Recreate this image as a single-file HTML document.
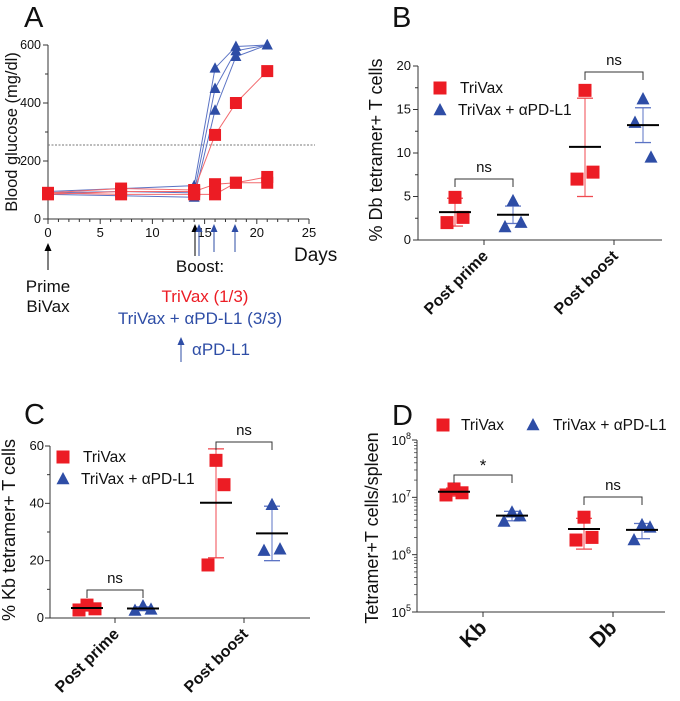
<!DOCTYPE html>
<html><head><meta charset="utf-8"><style>
html,body{margin:0;padding:0;background:#fff;}
svg{display:block;font-family:"Liberation Sans",Arial,sans-serif;}
</style></head><body>
<svg id="fig" width="680" height="701" viewBox="0 0 680 701" xmlns="http://www.w3.org/2000/svg"></svg>
<script>
// ---------- Panel A data ----------
const daysA = [0, 7, 14, 16, 18, 21];
const redA1 = [90, 105, 100, 290, 400, 510];
const redA2 = [85, 95, 95, 120, 125, 145];
const redA3 = [90, 85, 85, 85, 125, 125];
const blueA1 = [95, 105, 115, 520, 595, 600];
const blueA2 = [90, 95, 90, 450, 580, 600];
const blueA3 = [85, 80, 75, 375, 560, 600];
const thresholdA = 255;
const xTicksA = [0, 5, 10, 15, 20, 25];
const yTicksA = [0, 200, 400, 600];
// ---------- Panel B data ----------
const catsB = ["Post prime", "Post boost"];
const redB = [[4.9, 2.0, 2.6], [17.2, 7.0, 7.8]];
const blueB = [[4.5, 1.5, 2.0], [16.2, 13.5, 9.5]];
const redMeanB = [3.2, 10.7]; const redLoB = [1.6, 5.0]; const redHiB = [4.8, 16.3];
const blueMeanB = [2.9, 13.2]; const blueLoB = [1.9, 11.2]; const blueHiB = [3.9, 15.2];
const sigB = ["ns", "ns"];
const yTicksB = [0, 5, 10, 15, 20];
// ---------- Panel C data ----------
const catsC = ["Post prime", "Post boost"];
const redC = [[4.5, 2.8, 3.2], [55, 18.5, 46.5]];
const blueC = [[4.2, 2.6, 3.0], [39.5, 23.5, 24]];
const redMeanC = [3.5, 40.2]; const redLoC = [2.8, 21]; const redHiC = [4.3, 59];
const blueMeanC = [3.3, 29.5]; const blueLoC = [2.7, 20]; const blueHiC = [3.9, 39];
const sigC = ["ns", "ns"];
const yTicksC = [0, 20, 40, 60];
// ---------- Panel D data ----------
const catsD = ["Kb", "Db"];
const redD = [[1.4e7, 1.1e7, 1.2e7], [4.5e6, 1.8e6, 2.0e6]];
const blueD = [[5.5e6, 3.8e6, 4.7e6], [3.3e6, 1.8e6, 3.0e6]];
const redMeanD = [1.25e7, 2.8e6]; const redLoD = [1.05e7, 1.25e6]; const redHiD = [1.45e7, 4.3e6];
const blueMeanD = [4.8e6, 2.7e6]; const blueLoD = [3.9e6, 1.9e6]; const blueHiD = [5.7e6, 3.5e6];
const sigD = ["*", "ns"];
const yTicksD = [5, 6, 7, 8];

const RED = "#ec1c24", BLUE = "#2e4da6", NS = "http://www.w3.org/2000/svg";
const svg = document.getElementById("fig");
function el(tag, attrs, parent, text) {
  const e = document.createElementNS(NS, tag);
  for (const k in attrs) e.setAttribute(k, attrs[k]);
  if (text !== undefined) e.textContent = text;
  (parent || svg).appendChild(e);
  return e;
}
function group(name) {
  const g = el("g", {});
  
  
  return g;
}
function square(g, x, y, s, name) {
  const r = el("rect", {x: x - s / 2, y: y - s / 2, width: s, height: s, fill: RED}, g);
  
  
}
function tri(g, x, y, s, name) {
  const h = s * 0.9;
  const p = el("polygon", {points: `${x},${y - h * 0.6} ${x - s / 2},${y + h * 0.45} ${x + s / 2},${y + h * 0.45}`, fill: BLUE}, g);
  
  
}
function txt(g, x, y, s, opts, name) {
  const t = el("text", Object.assign({x: x, y: y, "font-size": 12, fill: "#111"}, opts || {}), g, s);
  
  
  return t;
}
function line(g, x1, y1, x2, y2, stroke, w, extra) {
  return el("line", Object.assign({x1, y1, x2, y2, stroke: stroke || "#333", "stroke-width": w || 1}, extra || {}), g);
}
function upArrow(g, x, y1, y2, color) {
  line(g, x, y1 + 6, x, y2, color, 1);
  el("polygon", {points: `${x},${y1} ${x - 3.5},${y1 + 8} ${x + 3.5},${y1 + 8}`, fill: color}, g);
}

// ================= Panel A =================
(function () {
  const g = group("panel-a");
  const xA = d => 48 + d * (261 / 25);
  const yA = v => 219 - v * (174 / 600);
  txt(g, 24, 27, "A", {"font-size": 29}, "panel-a-letter");
  line(g, 48, 45, 48, 219, "#333");
  line(g, 48, 219, 309, 219, "#333");
  for (let d = 0; d <= 25; d++) line(g, xA(d), 219, xA(d), d % 5 === 0 ? 224 : 222, "#333");
  xTicksA.forEach(d => txt(g, xA(d), 237, String(d), {"text-anchor": "middle", "font-size": 13}, "x-tick-a"));
  for (let v = 0; v <= 600; v += 100) line(g, 43 + (v % 200 ? 2 : 0), yA(v), 48, yA(v), "#333");
  yTicksA.forEach(v => txt(g, 41, yA(v) + 4, String(v), {"text-anchor": "end", "font-size": 12.5}, "y-tick-a"));
  txt(g, 17, 132, "Blood glucose (mg/dl)", {"text-anchor": "middle", "font-size": 16.5, transform: "rotate(-90 17 132)"}, "y-axis-title-a");
  txt(g, 294, 261, "Days", {"font-size": 19}, "x-axis-title-a");
  const th = line(g, 48, yA(thresholdA), 315, yA(thresholdA), "#777", 1, {"stroke-dasharray": "2,1.5"});
  
  
  const blues = [blueA1, blueA2, blueA3], reds = [redA1, redA2, redA3];
  blues.forEach(s => el("polyline", {points: daysA.map((d, i) => xA(d) + "," + yA(s[i])).join(" "), fill: "none", stroke: "#5b73c4", "stroke-width": 1}, g));
  reds.forEach(s => el("polyline", {points: daysA.map((d, i) => xA(d) + "," + yA(s[i])).join(" "), fill: "none", stroke: "#f26a6e", "stroke-width": 1}, g));
  blues.forEach(s => daysA.forEach((d, i) => { if (d >= 14) tri(g, xA(d), yA(s[i]), 11, "glucose-point-trivax-pdl1"); }));
  reds.forEach(s => daysA.forEach((d, i) => square(g, xA(d), yA(s[i]), 12, "glucose-point-trivax")));
  upArrow(g, 48, 243, 270, "#000");
  upArrow(g, 195, 224, 256, "#000");
  upArrow(g, 199, 224, 256, BLUE);
  upArrow(g, 214, 224, 252, BLUE);
  upArrow(g, 235, 224, 252, BLUE);
  upArrow(g, 181, 337, 362, BLUE);
  txt(g, 48, 292, "Prime", {"text-anchor": "middle", "font-size": 17}, "prime-label");
  txt(g, 48, 312, "BiVax", {"text-anchor": "middle", "font-size": 17}, "bivax-label");
  txt(g, 200, 272, "Boost:", {"text-anchor": "middle", "font-size": 17}, "boost-label");
  txt(g, 205, 302, "TriVax (1/3)", {"text-anchor": "middle", "font-size": 17, fill: RED}, "trivax-note");
  txt(g, 200, 324, "TriVax + \u03b1PD-L1 (3/3)", {"text-anchor": "middle", "font-size": 17, fill: BLUE}, "trivax-pdl1-note");
  txt(g, 192, 355, "\u03b1PD-L1", {"font-size": 17, fill: BLUE}, "pdl1-arrow-label");
})();

// ============ generic dot plot ============
function dotPanel(o) {
  const g = group(o.name);
  txt(g, o.letterX, o.letterY, o.letter, {"font-size": 29}, o.name + "-letter");
  line(g, o.ax, o.yTop, o.ax, o.y0, "#333");
  line(g, o.ax, o.y0, o.axEnd, o.y0, "#333");
  o.yTicks.forEach(v => {
    line(g, o.ax - 5, o.ys(v), o.ax, o.ys(v), "#333");
    if (o.minor) o.minor(g, v);
    o.tickLabel(g, v);
  });
  o.cats.forEach((c, i) => {
    const cx = o.catX[i];
    line(g, cx, o.y0, cx, o.y0 + 5, "#333");
    txt(g, cx + 5, o.y0 + 17, c, {"text-anchor": "end", "font-size": o.catFont, "font-weight": "bold", transform: `rotate(-45 ${cx + 5} ${o.y0 + 17})`}, "x-category-label");
    const rx = cx - o.off, bx = cx + o.off;
    line(g, rx, o.ys(o.redLo[i]), rx, o.ys(o.redHi[i]), "#f04a50", 1);
    line(g, rx - 8, o.ys(o.redLo[i]), rx + 8, o.ys(o.redLo[i]), "#f04a50", 1.3);
    line(g, rx - 8, o.ys(o.redHi[i]), rx + 8, o.ys(o.redHi[i]), "#f04a50", 1.3);
    line(g, bx, o.ys(o.blueLo[i]), bx, o.ys(o.blueHi[i]), "#5b73c4", 1);
    line(g, bx - 8, o.ys(o.blueLo[i]), bx + 8, o.ys(o.blueLo[i]), "#5b73c4", 1.3);
    line(g, bx - 8, o.ys(o.blueHi[i]), bx + 8, o.ys(o.blueHi[i]), "#5b73c4", 1.3);
    const jit = [0, -8, 8];
    o.red[i].forEach((v, j) => square(g, rx + jit[j], o.ys(v), 13, "point-trivax"));
    o.blue[i].forEach((v, j) => tri(g, bx + jit[j], o.ys(v), 13, "point-trivax-pdl1"));
    const mr = line(g, rx - 16, o.ys(o.redMean[i]), rx + 16, o.ys(o.redMean[i]), "#000", 2);
     
    const mb = line(g, bx - 16, o.ys(o.blueMean[i]), bx + 16, o.ys(o.blueMean[i]), "#000", 2);
     
    const by = o.brY[i];
    el("polyline", {points: `${rx},${by + 8} ${rx},${by} ${bx},${by} ${bx},${by + 8}`, fill: "none", stroke: "#333", "stroke-width": 1}, g);
    txt(g, cx, by - 7 + (o.sig[i] === "*" ? 3 : 0), o.sig[i], {"text-anchor": "middle", "font-size": o.sig[i] === "*" ? 17 : 15}, "significance-label");
  });
  txt(g, o.ylx, o.yly, o.ylabel, {"text-anchor": "middle", "font-size": 18, transform: `rotate(-90 ${o.ylx} ${o.yly})`}, o.name + "-y-axis-title");
  const L = o.legend;
  square(g, L.sx, L.sy, 13, "legend-marker-trivax");
  txt(g, L.stx, L.sy + 5, "TriVax", {"font-size": 15.5}, "legend-entry-trivax");
  tri(g, L.tx, L.ty, 13, "legend-marker-trivax-pdl1");
  txt(g, L.ttx, L.ty + 5, "TriVax + \u03b1PD-L1", {"font-size": 15.5}, "legend-entry-trivax-pdl1");
}

// Panel B
(function () {
  const ys = v => 240 - v * (174 / 20);
  dotPanel({name: "panel-b", letter: "B", letterX: 392, letterY: 27, ax: 418, axEnd: 662, y0: 240, yTop: 66, ys,
    yTicks: yTicksB, cats: catsB, catX: [484, 614], off: 29, catFont: 16,
    tickLabel: (g, v) => txt(g, 411, ys(v) + 4, String(v), {"text-anchor": "end", "font-size": 13}, "y-tick-b"),
    minor: (g, v) => { if (v < 20) line(g, 415, ys(v + 2.5), 418, ys(v + 2.5), "#333"); },
    red: redB, blue: blueB, redMean: redMeanB, redLo: redLoB, redHi: redHiB,
    blueMean: blueMeanB, blueLo: blueLoB, blueHi: blueHiB, sig: sigB, brY: [179, 72],
    ylx: 382, yly: 150, ylabel: "% Db tetramer+ T cells",
    legend: {sx: 440, sy: 88, stx: 460, tx: 440, ty: 110, ttx: 458}});
})();

// Panel C
(function () {
  const ys = v => 618 - v * (172 / 60);
  dotPanel({name: "panel-c", letter: "C", letterX: 24, letterY: 424, ax: 50, axEnd: 310, y0: 618, yTop: 446, ys,
    yTicks: yTicksC, cats: catsC, catX: [115, 244], off: 28, catFont: 16,
    tickLabel: (g, v) => txt(g, 44, ys(v) + 4, String(v), {"text-anchor": "end", "font-size": 13}, "y-tick-c"),
    minor: (g, v) => { if (v < 60) line(g, 47, ys(v + 10), 50, ys(v + 10), "#333"); },
    red: redC, blue: blueC, redMean: redMeanC, redLo: redLoC, redHi: redHiC,
    blueMean: blueMeanC, blueLo: blueLoC, blueHi: blueHiC, sig: sigC, brY: [590, 442],
    ylx: 15, yly: 530, ylabel: "% Kb tetramer+ T cells",
    legend: {sx: 63, sy: 457, stx: 83, tx: 63, ty: 479, ttx: 81}});
})();

// Panel D
(function () {
  const yl = e => 612 - (e - 5) * (172 / 3);
  const ys = v => yl(Math.log10(v));
  dotPanel({name: "panel-d", letter: "D", letterX: 392, letterY: 425, ax: 417, axEnd: 665, y0: 612, yTop: 440, ys: ys,
    yTicks: yTicksD.map(e => Math.pow(10, e)), cats: catsD, catX: [483, 613], off: 29, catFont: 21,
    tickLabel: (g, v) => {
      const e = Math.round(Math.log10(v));
      txt(g, 406, ys(v) + 5, "10", {"text-anchor": "end", "font-size": 13}, "y-tick-d");
      txt(g, 406, ys(v) - 1, String(e), {"font-size": 9}, "y-tick-d-exponent");
    },
    minor: (g, v) => { if (v < 1e8) for (let k = 2; k < 10; k++) line(g, 414, ys(v * k), 417, ys(v * k), "#333", 0.7); },
    red: redD, blue: blueD, redMean: redMeanD, redLo: redLoD, redHi: redHiD,
    blueMean: blueMeanD, blueLo: blueLoD, blueHi: blueHiD, sig: sigD, brY: [475, 497],
    ylx: 378, yly: 528, ylabel: "Tetramer+T cells/spleen",
    legend: {sx: 443, sy: 425, stx: 461, tx: 533, ty: 425, ttx: 553}});
})();
</script>
</body></html>
